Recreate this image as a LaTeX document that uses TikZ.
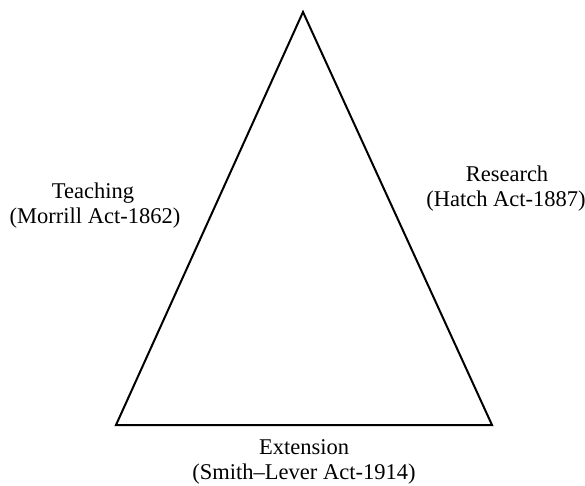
\documentclass[tikz,border=0pt]{standalone}
\usepackage{fontspec}
\setmainfont{Liberation Serif}
\begin{document}
\begin{tikzpicture}[x=1pt,y=-1pt,
  lbl/.style={anchor=base,inner sep=0pt,font=\fontsize{22.5}{25}\selectfont}]
  \useasboundingbox (0,0) rectangle (585,485);
  % Corners of the triangle.
  \coordinate (apex) at (303,12);
  \coordinate (lcorner) at (116,425);
  \coordinate (rcorner) at (492,425);
  \draw[line width=2pt,line join=miter] (apex) -- (rcorner) -- (lcorner) -- cycle;
  % Side labels.
  \node[lbl] (teach) at (93,198) {Teaching};
  \node[lbl] (morrill) at (95,223) {(Morrill Act-1862)};
  \node[lbl] (research) at (507,181) {Research};
  \node[lbl] (hatch) at (506,206) {(Hatch Act-1887)};
  \node[lbl] (ext) at (304,454) {Extension};
  \node[lbl] (smith) at (304,479) {(Smith--Lever Act-1914)};
\end{tikzpicture}
\end{document}
